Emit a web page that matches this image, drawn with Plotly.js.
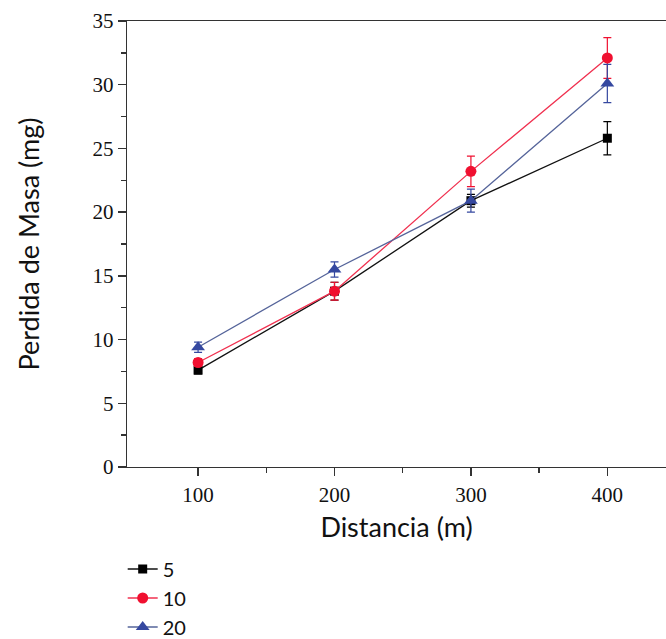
<!DOCTYPE html>
<html><head><meta charset="utf-8">
<script src="https://cdn.plot.ly/plotly-3.0.1.min.js"></script>
<style>html,body{margin:0;background:#fff;overflow:hidden}#c{width:666px;height:670px}</style>
</head><body><div id="c"></div>
<script>
const distancia = [100, 200, 300, 400];
const seriesNames = ['5', '10', '20'];
const y5 = [7.6, 13.8, 20.9, 25.8];
const e5 = [0.3, 0.7, 0.5, 1.3];
const y10 = [8.2, 13.8, 23.2, 32.1];
const e10 = [0.3, 0.7, 1.2, 1.6];
const y20 = [9.4, 15.5, 20.9, 30.1];
const e20 = [0.4, 0.6, 0.9, 1.5];

function tr(name, y, e, lineCol, markCol, sym, size) {
  return {
    x: distancia, y: y, name: name, type: 'scatter', mode: 'lines+markers',
    line: {color: lineCol, width: 1.3},
    marker: {color: markCol, symbol: sym, size: size},
    error_y: {type: 'data', array: e, visible: true, color: markCol, thickness: 1.2, width: 4}
  };
}
const data = [
  tr(seriesNames[0], y5, e5, '#111111', '#000000', 'square', 9),
  tr(seriesNames[1], y10, e10, '#f0304f', '#f01030', 'circle', 11),
  tr(seriesNames[2], y20, e20, '#55649a', '#3548a0', 'triangle-up', 12)
];
const layout = {
  width: 666, height: 670,
  margin: {l: 127, r: 0, t: 21, b: 203},
  paper_bgcolor: '#fff', plot_bgcolor: '#fff',
  showlegend: true,
  legend: {x: -0.008, xanchor: 'left', y: -0.185, yanchor: 'top', orientation: 'v',
           font: {family: 'Lato, sans-serif', size: 20, color: '#111'},
           tracegroupgap: 0, bgcolor: 'rgba(0,0,0,0)'},
  xaxis: {
    range: [47.9, 443], showgrid: false, zeroline: false,
    showline: true, linecolor: '#333', linewidth: 1.3, mirror: true,
    ticks: 'outside', ticklen: 8, tickcolor: '#333', tickwidth: 1.3,
    tickvals: distancia, ticktext: distancia.map(String),
    tickfont: {family: 'Liberation Serif, serif', size: 21, color: '#111'},
    minor: {tickvals: [150, 250, 350], ticks: 'outside', ticklen: 5, tickcolor: '#333', showgrid: false},
    title: {text: 'Distancia (m)', font: {family: 'Lato, sans-serif', size: 27, color: '#111'}, standoff: 12}
  },
  yaxis: {
    range: [0, 35], showgrid: false, zeroline: false,
    showline: true, linecolor: '#333', linewidth: 1.3,
    ticks: 'outside', ticklen: 8, tickcolor: '#333', tickwidth: 1.3,
    dtick: 5, tick0: 0,
    tickfont: {family: 'Liberation Serif, serif', size: 21, color: '#111'},
    minor: {dtick: 2.5, tick0: 0, ticks: 'outside', ticklen: 5, tickcolor: '#333', showgrid: false},
    title: {text: 'Perdida de Masa (mg)', font: {family: 'Lato, sans-serif', size: 27, color: '#111'}, standoff: 45}
  }
};
Plotly.newPlot('c', data, layout, {displayModeBar: false, staticPlot: true});
</script></body></html>
